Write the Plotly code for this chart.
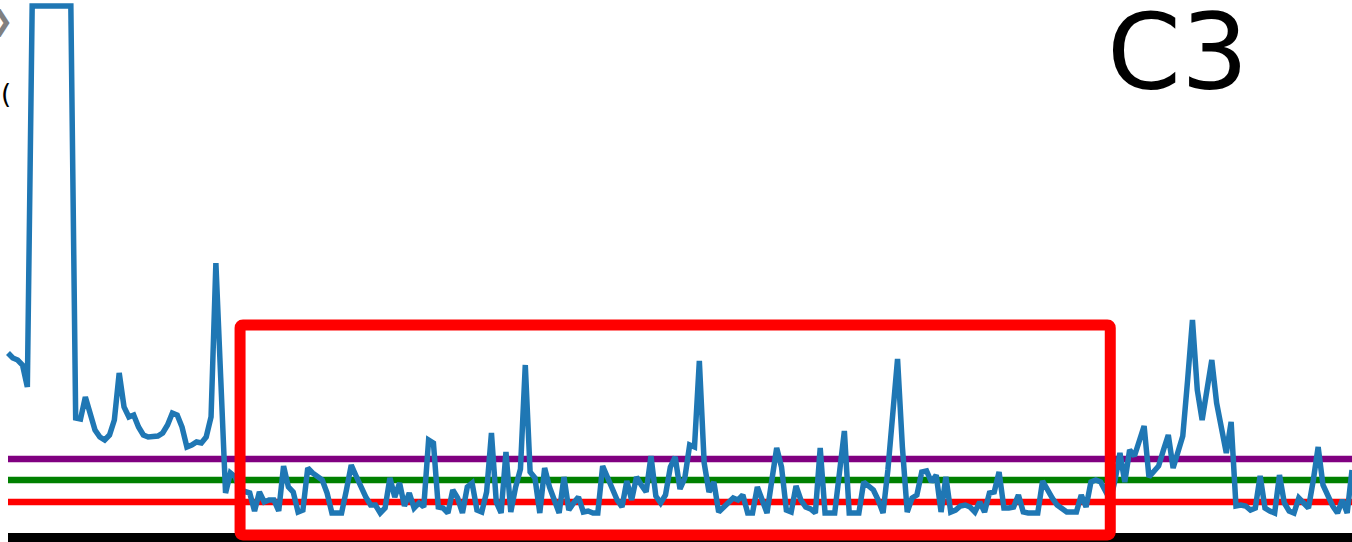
import plotly.graph_objects as go

# ---- data ----
values = [
    189, 184, 182, 177, 155, 536, 536, 536, 536, 536,
    536, 536, 536, 536, 124, 123, 145, 129, 112, 105,
    102, 107, 122, 169, 135, 125, 127, 115, 107, 105,
    105, 106, 109, 117, 129, 127, 115, 95, 97, 100, 99,
    105, 125, 279, 164, 49, 69, 65, 52, 50, 49,
    31, 50, 40, 42, 42, 31, 76, 55, 50, 30,
    32, 74, 69, 65, 62, 49, 29, 29, 29, 52,
    77, 66, 55, 45, 37, 37, 29, 34, 64,
    45, 59, 36, 49, 34, 39, 35, 102, 99, 35,
    34, 29, 52, 44, 29, 55, 59, 32, 30, 50,
    109, 40, 29, 90, 30, 55, 73, 177, 70, 64,
    29, 74, 55, 42, 29, 65, 32, 39, 45, 30,
    31, 29, 29, 76, 64, 52, 42, 35, 61,
    42, 65, 57, 50, 86, 46, 39, 47, 75, 85,
    53, 64, 97, 95, 181, 79, 50, 60, 30, 35,
    39, 44, 42, 47, 29, 29, 55, 42, 29,
    62, 94, 75, 32, 30, 56, 42, 35, 33, 29,
    94, 29, 29, 29, 70, 111, 29, 29, 29, 60,
    56, 52, 42, 29, 72, 127, 183, 95, 30, 44,
    47, 70, 71, 60, 67, 30, 65, 30, 32, 36,
    37, 35, 30, 40, 30, 49, 50, 70, 34, 34,
    35, 47, 30, 29, 29, 29, 61, 52, 44,
    37, 34, 30, 30, 30, 47, 35, 60, 62, 60,
    52, 42, 62, 89, 60, 92, 86, 102, 116, 65,
    70, 76, 92, 107, 74, 90, 106, 162, 222, 152,
    122, 152, 182, 139, 112, 89, 120, 36, 37, 36,
    32, 34, 66, 34, 31, 29, 67, 39, 31, 29, 44, 39, 34,
    62, 95, 57, 45, 36, 29, 42, 29, 72,
]
level_high = 83   # purple
level_mid = 62    # green
level_low = 40    # red
level_base = 0    # black
highlight_x = (48, 228)
highlight_y = (7, 217)
label_text = "C3"

n = len(values)
x = list(range(n))

fig = go.Figure()
fig.add_trace(go.Scatter(x=x, y=values, mode="lines",
                         line=dict(color="#1f77b4", width=5.5),
                         hoverinfo="skip", showlegend=False))

for lvl, col, w in [(level_base, "black", 18), (level_low, "#ff0000", 6.5),
                    (level_mid, "#008000", 6.5), (level_high, "#800080", 6.5)]:
    fig.add_shape(type="line", xref="x", yref="y", x0=0, x1=n - 1,
                  y0=lvl, y1=lvl, line=dict(color=col, width=w), layer="below")

# rounded highlight rectangle
x0, x1 = highlight_x
y0, y1 = highlight_y
rx, ry = 0.6, 3
path = (f"M {x0+rx},{y0} L {x1-rx},{y0} Q {x1},{y0} {x1},{y0+ry} "
        f"L {x1},{y1-ry} Q {x1},{y1} {x1-rx},{y1} L {x0+rx},{y1} "
        f"Q {x0},{y1} {x0},{y1-ry} L {x0},{y0+ry} Q {x0},{y0} {x0+rx},{y0} Z")
fig.add_shape(type="path", xref="x", yref="y", path=path,
              line=dict(color="#ff0000", width=11), layer="above")

fig.add_annotation(text=label_text, xref="paper", yref="paper",
                   x=0.871, y=0.904, xanchor="center", yanchor="middle",
                   showarrow=False,
                   font=dict(family="DejaVu Sans", size=106, color="black"))
fig.add_annotation(text="❯", xref="paper", yref="paper",
                   x=0.011, y=0.963, xanchor="right", yanchor="middle",
                   showarrow=False,
                   font=dict(family="DejaVu Sans", size=28, color="#808080"))
fig.add_annotation(text="(", xref="paper", yref="paper",
                   x=0.0095, y=0.827, xanchor="right", yanchor="middle",
                   showarrow=False,
                   font=dict(family="DejaVu Sans", size=26, color="black"))

step_px = (1352 - 8) / (n - 1)
fig.update_layout(
    width=1352, height=542,
    margin=dict(l=0, r=0, t=0, b=0),
    paper_bgcolor="white", plot_bgcolor="white",
    xaxis=dict(range=[-8 / step_px, n - 1], visible=False, fixedrange=True),
    yaxis=dict(range=[0, 542], visible=False, fixedrange=True),
)
fig.write_html("out.html", config={"displayModeBar": False},
               post_script="document.body.style.margin='0';")
